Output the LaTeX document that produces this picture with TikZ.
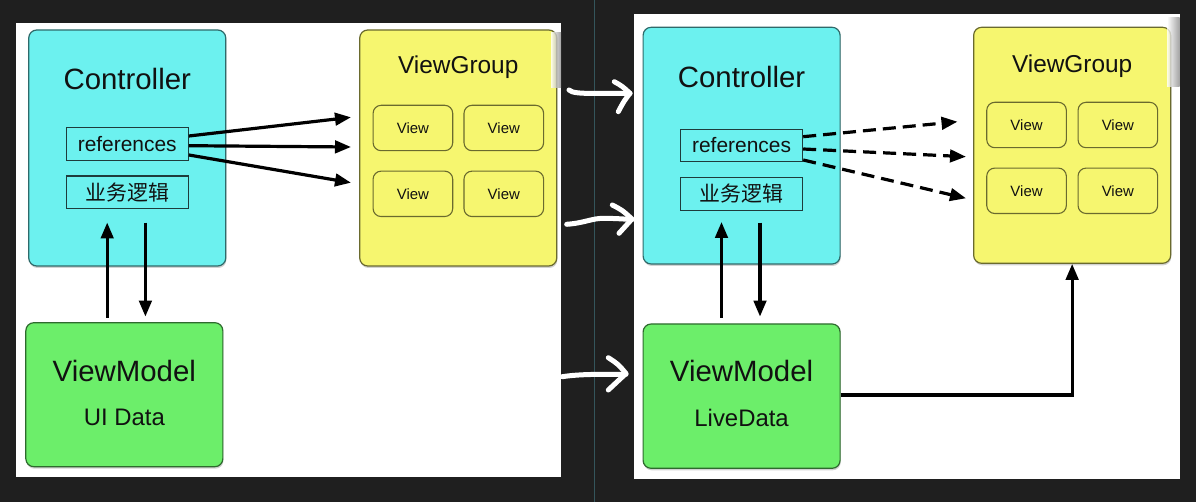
\documentclass[tikz,border=0pt]{standalone}
\usepackage{fontspec}
\setmainfont{Liberation Sans}
\newfontfamily\cjk{Noto Sans CJK SC}
\usetikzlibrary{arrows.meta,calc,shadows}
\definecolor{bgdark}{HTML}{1F1F1F}
\definecolor{ctrlcyan}{HTML}{6CF1EF}
\definecolor{vgyellow}{HTML}{F6F66F}
\definecolor{vmgreen}{HTML}{6CEE6A}
\definecolor{cyanedge}{HTML}{2F6A6A}
\definecolor{yellowedge}{HTML}{6A6A2E}
\definecolor{greenedge}{HTML}{2E6A2E}
\definecolor{innerdark}{HTML}{1E3C3C}
\definecolor{divider}{HTML}{34555B}
\definecolor{inkblack}{HTML}{111111}
\tikzset{
  bigbox/.style={line width=1.2bp, rounded corners=8bp, inner sep=0pt,
    minimum width=197bp,
    drop shadow={shadow xshift=0.6bp, shadow yshift=-2bp, opacity=0.35}},
  ctrlbox/.style={bigbox, fill=ctrlcyan, draw=cyanedge, minimum height=236bp},
  vgbox/.style={bigbox, fill=vgyellow, draw=yellowedge, minimum height=236bp},
  vmbox/.style={bigbox, fill=vmgreen, draw=greenedge, minimum height=144bp},
  innerbox/.style={draw=innerdark, line width=1.3bp, inner sep=0pt, text=inkblack,
    minimum width=122bp, minimum height=32.6bp, font=\fontsize{21}{24}\selectfont},
  viewbox/.style={draw=yellowedge, line width=1.1bp, rounded corners=8bp, inner sep=0pt,
    text=inkblack, minimum width=79.6bp, minimum height=45.4bp, font=\fontsize{15}{18}\selectfont},
  bigtitle/.style={anchor=base, inner sep=0pt, text=inkblack, font=\fontsize{29.5}{33}\selectfont},
  midtitle/.style={anchor=base, inner sep=0pt, text=inkblack, font=\fontsize{24.5}{28}\selectfont},
  subtitle/.style={anchor=base, inner sep=0pt, text=inkblack, font=\fontsize{24}{28}\selectfont},
  conn/.style={line width=3.2bp, -{Triangle[length=16bp,width=12.5bp]}},
  dconn/.style={conn, dash pattern=on 13bp off 7bp},
  hand/.style={white, line width=5bp, line cap=round, line join=round},
}
\begin{document}
\begin{tikzpicture}[x=1bp,y=-1bp]
\useasboundingbox (0,0) rectangle (1196,502);
\fill[bgdark] (0,0) rectangle (1196,502);
\draw[divider, line width=1bp] (594,0) -- (594,502);
% panels
\fill[white] (16,22.7) rectangle (561,476.7);
\fill[white] (633.8,14) rectangle (1179.5,478.7);

% ---------------- left panel ----------------
\node[ctrlbox] (lctrl) at (127.25,148) {};
\node[bigtitle] (lctrlT) at (127.25,89.3) {Controller};
\node[innerbox] (lrefs) at (127.25,144) {references};
\node[innerbox, font=\cjk\fontsize{21}{24}\selectfont] (lbiz) at (127.25,192.35) {业务逻辑};

\node[vgbox] (lvg) at (458.25,148) {};
\node[midtitle] (lvgT) at (458.25,74) {ViewGroup};
\node[viewbox] (lv1) at (412.9,128) {View};
\node[viewbox] (lv2) at (503.8,128) {View};
\node[viewbox] (lv3) at (412.9,193.85) {View};
\node[viewbox] (lv4) at (503.8,193.85) {View};

\node[vmbox] (lvm) at (124.35,394.7) {};
\node[bigtitle] (lvmT) at (124.35,381.7) {ViewModel};
\node[subtitle] (lvmS) at (124.35,425.7) {UI Data};

\coordinate (lt1) at (351,117.3);
\coordinate (lt2) at (351,147);
\coordinate (lt3) at (351,182.7);
\draw[conn] ($(lrefs.east)+(0,-8)$) -- (lt1);
\draw[conn] ($(lrefs.east)+(0,1.7)$) -- (lt2);
\draw[conn] ($(lrefs.east)+(0,11)$) -- (lt3);

\coordinate (lupTip) at (107.2,222.5);
\coordinate (ldnTop) at (145.4,222.7);
\draw[conn] ($(lvm.north -| lupTip)+(0,-4.4)$) -- (lupTip);
\draw[conn] (ldnTop) -- ($(lvm.north -| ldnTop)+(0,-5.5)$);

% ---------------- right panel ----------------
\node[ctrlbox, minimum height=236.7bp] (rctrl) at (741.6,145.65) {};
\node[bigtitle] (rctrlT) at (741.6,87.3) {Controller};
\node[innerbox, minimum height=32bp] (rrefs) at (741.55,145.3) {references};
\node[innerbox, minimum height=33bp, font=\cjk\fontsize{21}{24}\selectfont] (rbiz) at (741.55,193.8) {业务逻辑};

\node[vgbox] (rvg) at (1072.15,145.3) {};
\node[midtitle] (rvgT) at (1072.15,72.7) {ViewGroup};
\node[viewbox] (rv1) at (1026.55,125) {View};
\node[viewbox] (rv2) at (1117.85,125) {View};
\node[viewbox] (rv3) at (1026.55,190.8) {View};
\node[viewbox] (rv4) at (1117.85,190.8) {View};

\node[vmbox, minimum height=144.3bp] (rvm) at (741.6,396.15) {};
\node[bigtitle] (rvmT) at (741.6,381.7) {ViewModel};
\node[subtitle] (rvmS) at (741.6,426) {LiveData};

\coordinate (rt1) at (957.5,121.7);
\coordinate (rt2) at (966,156.7);
\coordinate (rt3) at (966,198.3);
\draw[dconn] ($(rrefs.east)+(0,-8.6)$) -- (rt1);
\draw[dconn] ($(rrefs.east)+(0,3.7)$) -- (rt2);
\draw[dconn] ($(rrefs.east)+(0,14.7)$) -- (rt3);

\coordinate (rupTip) at (721.5,222);
\coordinate (rdnTop) at (760,222.7);
\draw[conn] ($(rvm.north -| rupTip)+(0,-5.7)$) -- (rupTip);
\draw[conn] (rdnTop) -- ($(rvm.north -| rdnTop)+(0,-6.8)$);

\draw[conn] ($(rvm.east)+(0,-1.15)$) -| (rvg.south);

% screenshot edge shading over the panels
\shade[left color=white, right color=black!45, opacity=0.8] (551,33) rectangle (561,88);
\shade[left color=white, right color=black!45, opacity=0.8] (1167,18) rectangle (1179.5,87);

% ---------------- hand-drawn white arrows ----------------
\draw[hand] (569,90) .. controls (572,93) and (580,93.5) .. (600,93.5) -- (630,93.3);
\draw[hand] (614.3,81.7) .. controls (622,86) .. (630,93.3) .. controls (624,101) .. (618.3,111.7);
\draw[hand] (566.7,224.3) .. controls (585,223) and (592,218) .. (605,218.3) .. controls (615,218.5) .. (632,219.5);
\draw[hand] (612.3,205) .. controls (622,210) .. (632,219) .. controls (626,226) .. (619,233.3);
\draw[hand] (562.3,376.7) .. controls (580,374) and (600,374.3) .. (626,374.3);
\draw[hand] (608.3,357.7) .. controls (618,364) .. (626,373.5) .. controls (617,381) .. (608.3,390);
\end{tikzpicture}
\end{document}
